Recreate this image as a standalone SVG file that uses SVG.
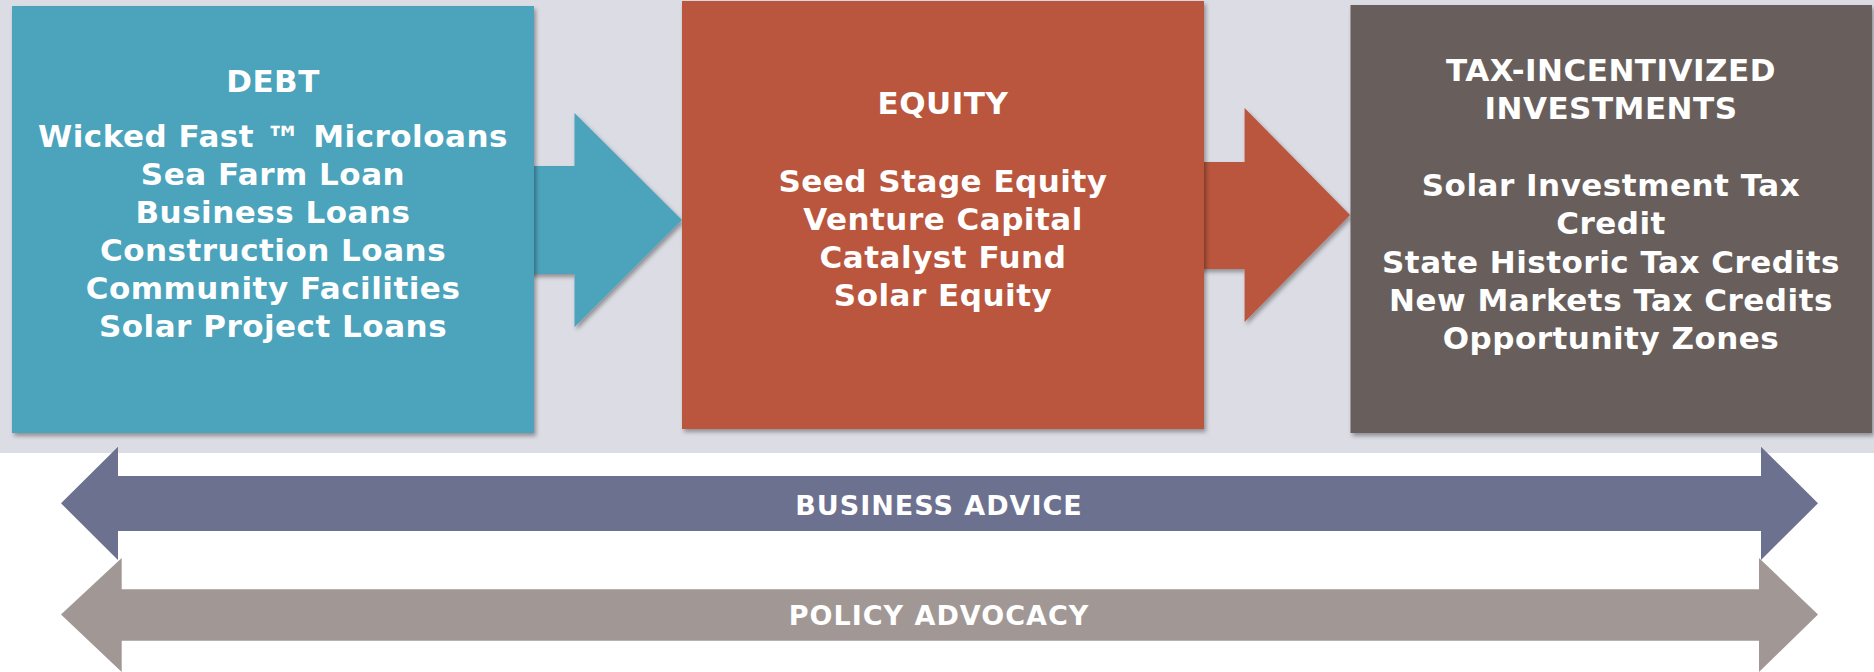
<svg xmlns="http://www.w3.org/2000/svg" width="1874" height="672" viewBox="0 0 1874 672">
<style>
.t{font-family:"DejaVu Sans","Verdana",sans-serif;font-weight:bold;font-size:31px;fill:#ffffff;text-anchor:middle;letter-spacing:0.5px}
.lbl{font-family:"DejaVu Sans","Verdana",sans-serif;font-weight:bold;font-size:27px;fill:#ffffff;text-anchor:middle;letter-spacing:1px}
.tm{font-size:36px}
</style>
<defs>
<filter id="sh" x="-5%" y="-5%" width="110%" height="115%">
<feDropShadow dx="2" dy="3" stdDeviation="2" flood-color="#000" flood-opacity="0.35"/>
</filter>
</defs>
<rect x="0" y="0" width="1874" height="453" fill="#dcdce4"/>
<g id="connectors">
<polygon points="528,166 574.5,166 574.5,113 682,220 574.5,327 574.5,274 528,274" fill="#4ba3bc" filter="url(#sh)"/>
<polygon points="1198,162 1244.6,162 1244.6,108 1350,215 1244.6,322 1244.6,269 1198,269" fill="#b9563c" filter="url(#sh)"/>
</g>
<g id="debt">
<rect x="12" y="6" width="522" height="427" fill="#4ba3bc" filter="url(#sh)"/>
<text class="t" x="273" y="92">DEBT</text>
<text class="t" x="273" y="146.5">Wicked Fast <tspan class="tm" dy="5">™</tspan><tspan dy="-5"> Microloans</tspan></text>
<text class="t" x="273" y="184.6">Sea Farm Loan</text>
<text class="t" x="273" y="222.7">Business Loans</text>
<text class="t" x="273" y="260.8">Construction Loans</text>
<text class="t" x="273" y="298.9">Community Facilities</text>
<text class="t" x="273" y="337">Solar Project Loans</text>
</g>
<g id="equity">
<rect x="682" y="1" width="522" height="428" fill="#b9563c" filter="url(#sh)"/>
<text class="t" x="943" y="113.5">EQUITY</text>
<text class="t" x="943" y="191.7">Seed Stage Equity</text>
<text class="t" x="943" y="229.8">Venture Capital</text>
<text class="t" x="943" y="267.8">Catalyst Fund</text>
<text class="t" x="943" y="305.8">Solar Equity</text>
</g>
<g id="tax">
<rect x="1350.5" y="5" width="521.5" height="428" fill="#685e5b" filter="url(#sh)"/>
<text class="t" x="1611" y="81">TAX-INCENTIVIZED</text>
<text class="t" x="1611" y="118.8">INVESTMENTS</text>
<text class="t" x="1611" y="195.7">Solar Investment Tax</text>
<text class="t" x="1611" y="234">Credit</text>
<text class="t" x="1611" y="272.5">State Historic Tax Credits</text>
<text class="t" x="1611" y="311">New Markets Tax Credits</text>
<text class="t" x="1611" y="349.3">Opportunity Zones</text>
</g>
<g id="business-advice">
<polygon points="61,503.3 118,446.7 118,476 1761,476 1761,446.7 1818,503.3 1761,560 1761,531 118,531 118,560" fill="#6d7190"/>
<text class="lbl" x="939" y="515">BUSINESS ADVICE</text>
</g>
<g id="policy-advocacy">
<polygon points="61,614.5 121.7,558 121.7,589.3 1759,589.3 1759,558 1818,614.5 1759,672 1759,640.7 121.7,640.7 121.7,672" fill="#a19895"/>
<text class="lbl" x="939" y="625">POLICY ADVOCACY</text>
</g>
</svg>
